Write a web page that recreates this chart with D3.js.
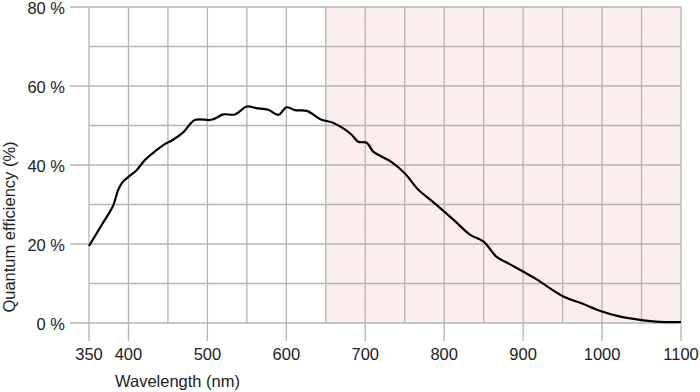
<!DOCTYPE html>
<html><head><meta charset="utf-8">
<script src="https://cdn.jsdelivr.net/npm/d3@7"></script>
<style>body{margin:0;background:#fff}svg{display:block}text{font-family:"Liberation Sans",Arial,sans-serif;fill:#222}</style>
</head><body><svg id="c" width="700" height="392"></svg>
<script>
const wavelengths=[350,366,376,381,387,393,400,410,421,434,446,455,470,484,503,510,520,535,550,562,577,590,600,611,626,643,659,675,683,691,702,710,721,733,750,767,788,812,833,850,866,883,915,951,974,1000,1023,1048,1073,1100];
const qe=[19.5,24.8,28.0,29.9,33.7,35.8,37.0,38.6,41.3,43.5,45.3,46.2,48.4,51.4,51.4,51.8,52.8,52.8,54.8,54.4,54.0,52.7,54.6,53.9,53.7,51.6,50.7,48.9,47.6,45.9,45.6,43.4,42.1,40.8,37.9,33.8,30.3,26.1,22.3,20.6,16.8,14.9,11.3,6.7,5.0,2.9,1.6,0.8,0.3,0.25];
const xTickLabels=[350,400,500,600,700,800,900,1000,1100];
const yTickLabels=[0,20,40,60,80];
const xGrid=d3.range(350,1101,50);
const yGrid=d3.range(0,81,10);
const nirRange=[650,1100];

const svg=d3.select("#c");
const x=d3.scaleLinear().domain([350,1100]).range([89,681]);
const y=d3.scaleLinear().domain([0,80]).range([323,7]);
const grid="#b4b4b4";
const fs=16.5;

svg.append("rect").attr("x",x(nirRange[0])).attr("y",y(80)).attr("width",x(nirRange[1])-x(nirRange[0])).attr("height",y(0)-y(80)).attr("fill","#fdeeee");

svg.append("g").selectAll("line").data(xGrid).join("line")
 .attr("x1",d=>x(d)).attr("x2",d=>x(d)).attr("y1",y(80))
 .attr("y2",d=>xTickLabels.includes(d)?341:y(0))
 .attr("stroke",grid).attr("stroke-width",1.3);
svg.append("g").selectAll("line").data(yGrid).join("line")
 .attr("y1",d=>y(d)).attr("y2",d=>y(d)).attr("x2",x(1100))
 .attr("x1",d=>yTickLabels.includes(d)?70:x(350))
 .attr("stroke",grid).attr("stroke-width",1.3);

svg.append("g").selectAll("text").data(yTickLabels).join("text")
 .attr("x",65).attr("y",d=>y(d)).attr("dy","0.42em").attr("text-anchor","end")
 .attr("font-size",fs).text(d=>d+" %");
svg.append("g").selectAll("text").data(xTickLabels).join("text")
 .attr("x",d=>x(d)).attr("y",360).attr("text-anchor","middle")
 .attr("font-size",fs).text(d=>d);

svg.append("text").attr("x",115).attr("y",386.5).attr("font-size",fs).text("Wavelength (nm)");
svg.append("text").attr("transform","translate(14.5,227) rotate(-90)").attr("text-anchor","middle").attr("font-size",fs).text("Quantum efficiency (%)");

const line=d3.line().x((d,i)=>x(wavelengths[i])).y(d=>y(d)).curve(d3.curveCatmullRom.alpha(0.5));
svg.append("path").attr("d",line(qe)).attr("fill","none").attr("stroke","#000").attr("stroke-width",2.2).attr("stroke-linejoin","round");
</script></body></html>
